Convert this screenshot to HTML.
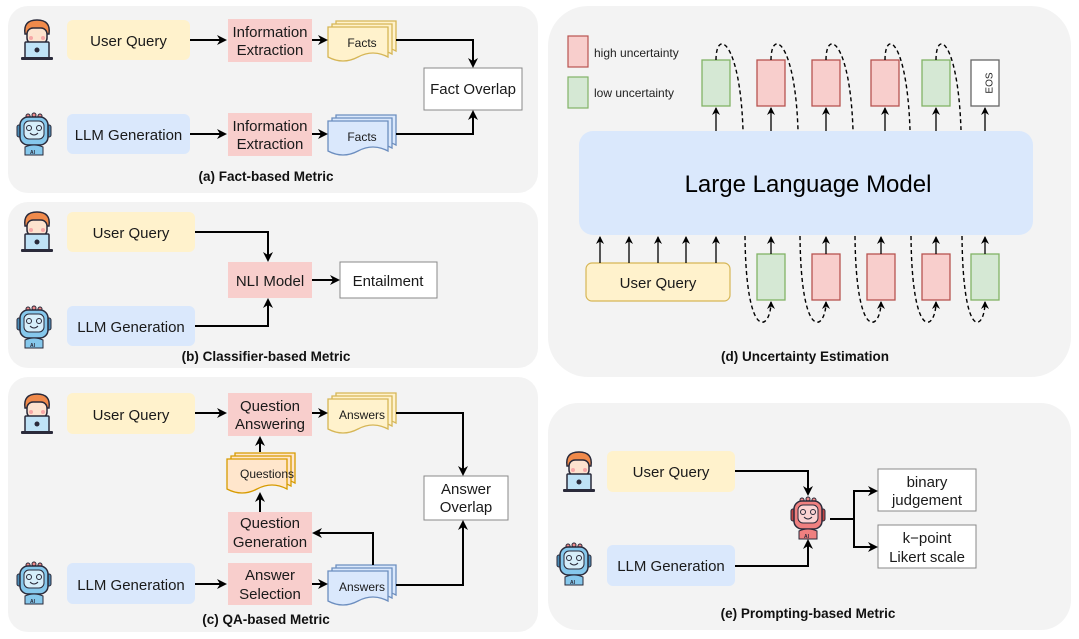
<!DOCTYPE html>
<html><head><meta charset="utf-8"><style>
html,body{margin:0;padding:0;background:#fff;}
svg{display:block;font-family:"Liberation Sans",sans-serif;}
.t{font-size:15px;fill:#1a1a1a;text-anchor:middle;}
.cap{font-size:13.5px;font-weight:bold;fill:#111;text-anchor:middle;}
.ln{fill:none;stroke:#000;stroke-width:2;}
.dl{fill:none;stroke:#000;stroke-width:1.4;stroke-dasharray:4 3;}
</style></head><body>
<svg width="1079" height="639" viewBox="0 0 1079 639" xmlns="http://www.w3.org/2000/svg">
<defs>
<marker id="ah" markerWidth="10" markerHeight="10" refX="8" refY="5" orient="auto" markerUnits="userSpaceOnUse">
<path d="M0,0 L10,5 L0,10 L3,5 z" fill="#000"/></marker>
<marker id="as" markerWidth="8" markerHeight="8" refX="7" refY="4" orient="auto" markerUnits="userSpaceOnUse">
<path d="M0,0 L8,4 L0,8 L2.5,4 z" fill="#000"/></marker>
<g id="person">
<path d="M6,16 Q4,2 18,2 Q32,2 30,16 z" fill="#f08a4b" stroke="#2a2a3a" stroke-width="1.5"/>
<rect x="8" y="10" width="20" height="16" rx="6" fill="#fde3cf" stroke="#2a2a3a" stroke-width="1.5"/>
<circle cx="12" cy="20" r="2" fill="#f7a7a7"/><circle cx="24" cy="20" r="2" fill="#f7a7a7"/>
<rect x="6" y="24" width="24" height="16" rx="1" fill="#bfe2f6" stroke="#2a2a3a" stroke-width="1.5"/>
<circle cx="18" cy="32" r="2.5" fill="#2a2a3a"/>
<rect x="2" y="39" width="32" height="3" rx="1" fill="#2a2a3a"/>
</g>
<g id="robotB">
<circle cx="12" cy="3" r="2" fill="#f08a8a" stroke="#2a2a3a"/><circle cx="18" cy="2" r="2" fill="#f08a8a" stroke="#2a2a3a"/><circle cx="24" cy="3" r="2" fill="#f08a8a" stroke="#2a2a3a"/>
<rect x="1" y="12" width="5" height="12" rx="2" fill="#4a8bb5" stroke="#2a2a3a"/><rect x="30" y="12" width="5" height="12" rx="2" fill="#4a8bb5" stroke="#2a2a3a"/>
<rect x="4" y="4" width="28" height="28" rx="8" fill="#86c8ec" stroke="#2a2a3a" stroke-width="1.5"/>
<rect x="8" y="8" width="20" height="18" rx="5" fill="#d6eefa" stroke="#2a2a3a"/>
<circle cx="13" cy="15" r="2.5" fill="none" stroke="#2a2a3a"/><circle cx="23" cy="15" r="2.5" fill="none" stroke="#2a2a3a"/>
<path d="M14,20 q4,4 8,0" fill="none" stroke="#2a2a3a"/>
<path d="M9,34 q9,-4 18,0 v8 h-18 z" fill="#86c8ec" stroke="#2a2a3a"/>
<text x="14" y="41" font-size="5" font-weight="bold" fill="#2a2a3a">AI</text>
</g>
<g id="robotR">
<circle cx="12" cy="3" r="2" fill="#f08a8a" stroke="#2a2a3a"/><circle cx="18" cy="2" r="2" fill="#f08a8a" stroke="#2a2a3a"/><circle cx="24" cy="3" r="2" fill="#f08a8a" stroke="#2a2a3a"/>
<rect x="1" y="12" width="5" height="12" rx="2" fill="#c04545" stroke="#2a2a3a"/><rect x="30" y="12" width="5" height="12" rx="2" fill="#c04545" stroke="#2a2a3a"/>
<rect x="4" y="4" width="28" height="28" rx="8" fill="#ef8080" stroke="#2a2a3a" stroke-width="1.5"/>
<rect x="8" y="8" width="20" height="18" rx="5" fill="#fbd3d3" stroke="#2a2a3a"/>
<circle cx="13" cy="15" r="2.5" fill="none" stroke="#2a2a3a"/><circle cx="23" cy="15" r="2.5" fill="none" stroke="#2a2a3a"/>
<path d="M14,20 q4,4 8,0" fill="none" stroke="#2a2a3a"/>
<path d="M9,34 q9,-4 18,0 v8 h-18 z" fill="#ef8080" stroke="#2a2a3a"/>
<text x="14" y="41" font-size="5" font-weight="bold" fill="#2a2a3a">AI</text>
</g>
<path id="pg" d="M0,0 h60 v30 q-15,-8 -30,0 t-30,0 z"/>
<g id="docY" fill="#fff2cc" stroke="#d6b656" stroke-width="1.3"><use href="#pg" x="8" y="-6"/><use href="#pg" x="4" y="-3"/><use href="#pg" x="0" y="0"/></g>
<g id="docYo" fill="#ffe6cc" stroke="#d79b00" stroke-width="1.3"><use href="#pg" x="8" y="-6"/><use href="#pg" x="4" y="-3"/><use href="#pg" x="0" y="0"/></g>
<g id="docB" fill="#dae8fc" stroke="#6c8ebf" stroke-width="1.3"><use href="#pg" x="8" y="-6"/><use href="#pg" x="4" y="-3"/><use href="#pg" x="0" y="0"/></g>
</defs>

<!-- panels -->
<rect x="8" y="6" width="530" height="187" rx="20" fill="#f3f3f3"/>
<rect x="8" y="202" width="530" height="166" rx="20" fill="#f3f3f3"/>
<rect x="8" y="377" width="530" height="255" rx="20" fill="#f3f3f3"/>
<rect x="548" y="6" width="523" height="371" rx="40" fill="#f3f3f3"/>
<rect x="548" y="403" width="523" height="227" rx="30" fill="#f3f3f3"/>

<!-- (a) -->
<use href="#person" x="19" y="18"/>
<use href="#robotB" x="16" y="113"/>
<rect x="67" y="20" width="123" height="40" rx="6" fill="#fff2cc"/><text class="t" x="128.5" y="46">User Query</text>
<rect x="67" y="114" width="123" height="40" rx="6" fill="#dae8fc"/><text class="t" x="128.5" y="140">LLM Generation</text>
<rect x="228" y="19" width="84" height="43" fill="#f8cecc"/><text class="t" x="270" y="37">Information</text><text class="t" x="270" y="55">Extraction</text>
<rect x="228" y="113" width="84" height="43" fill="#f8cecc"/><text class="t" x="270" y="131">Information</text><text class="t" x="270" y="149">Extraction</text>
<use href="#docY" x="328" y="27"/><text class="t" x="362" y="47" style="font-size:12px">Facts</text>
<use href="#docB" x="328" y="121"/><text class="t" x="362" y="141" style="font-size:12px">Facts</text>
<rect x="424" y="68" width="98" height="42" fill="#fff" stroke="#888"/><text class="t" x="473" y="94">Fact Overlap</text>
<path class="ln" d="M190,40 H225" marker-end="url(#ah)"/>
<path class="ln" d="M190,134 H225" marker-end="url(#ah)"/>
<path class="ln" d="M312,40 H326" marker-end="url(#ah)"/>
<path class="ln" d="M312,134 H326" marker-end="url(#ah)"/>
<path class="ln" d="M396,40 H473 V66" marker-end="url(#ah)"/>
<path class="ln" d="M396,134 H473 V112" marker-end="url(#ah)"/>
<text class="cap" x="266" y="181">(a) Fact-based Metric</text>

<!-- (b) -->
<use href="#person" x="19" y="210"/>
<use href="#robotB" x="16" y="306"/>
<rect x="67" y="212" width="128" height="40" rx="6" fill="#fff2cc"/><text class="t" x="131" y="238">User Query</text>
<rect x="67" y="306" width="128" height="40" rx="6" fill="#dae8fc"/><text class="t" x="131" y="332">LLM Generation</text>
<rect x="228" y="262" width="84" height="36" fill="#f8cecc"/><text class="t" x="270" y="286">NLI Model</text>
<rect x="340" y="262" width="97" height="36" fill="#fff" stroke="#888"/><text class="t" x="388" y="286">Entailment</text>
<path class="ln" d="M195,232 H268 V260" marker-end="url(#ah)"/>
<path class="ln" d="M195,326 H268 V300" marker-end="url(#ah)"/>
<path class="ln" d="M312,280 H338" marker-end="url(#ah)"/>
<text class="cap" x="266" y="361">(b) Classifier-based Metric</text>

<!-- (c) -->
<use href="#person" x="19" y="392"/>
<use href="#robotB" x="16" y="562"/>
<rect x="67" y="393" width="128" height="41" rx="6" fill="#fff2cc"/><text class="t" x="131" y="420">User Query</text>
<rect x="67" y="563" width="128" height="41" rx="6" fill="#dae8fc"/><text class="t" x="131" y="590">LLM Generation</text>
<rect x="228" y="393" width="84" height="43" fill="#f8cecc"/><text class="t" x="270" y="411">Question</text><text class="t" x="270" y="429">Answering</text>
<rect x="228" y="512" width="84" height="41" fill="#f8cecc"/><text class="t" x="270" y="528">Question</text><text class="t" x="270" y="547">Generation</text>
<rect x="228" y="563" width="84" height="42" fill="#f8cecc"/><text class="t" x="270" y="580">Answer</text><text class="t" x="270" y="599">Selection</text>
<use href="#docY" x="328" y="399"/><text class="t" x="362" y="419" style="font-size:12px">Answers</text>
<use href="#docYo" x="227" y="459"/><text class="t" x="267" y="478" style="font-size:12px">Questions</text>
<use href="#docB" x="328" y="571"/><text class="t" x="362" y="591" style="font-size:12px">Answers</text>
<rect x="424" y="476" width="84" height="44" fill="#fff" stroke="#888"/><text class="t" x="466" y="494">Answer</text><text class="t" x="466" y="512">Overlap</text>
<path class="ln" d="M195,413 H225" marker-end="url(#ah)"/>
<path class="ln" d="M195,584 H225" marker-end="url(#ah)"/>
<path class="ln" d="M312,413 H326" marker-end="url(#ah)"/>
<path class="ln" d="M312,584 H326" marker-end="url(#ah)"/>
<path class="ln" d="M396,413 H463 V474" marker-end="url(#ah)"/>
<path class="ln" d="M396,585 H463 V522" marker-end="url(#ah)"/>
<path class="ln" d="M373,565 V533 H314" marker-end="url(#ah)"/>
<path class="ln" d="M260,512 V494" marker-end="url(#ah)"/>
<path class="ln" d="M260,452 V438" marker-end="url(#ah)"/>
<text class="cap" x="266" y="624">(c) QA-based Metric</text>

<!-- (d) -->
<rect x="568" y="36" width="20" height="31" fill="#f8cecc" stroke="#b85450" stroke-width="1.2"/>
<rect x="568" y="77" width="20" height="31" fill="#d5e8d4" stroke="#82b366" stroke-width="1.2"/>
<text x="594" y="57" font-size="12" fill="#222">high uncertainty</text>
<text x="594" y="97" font-size="12" fill="#222">low uncertainty</text>
<g stroke-width="1.3">
<rect x="702" y="60" width="28" height="46" fill="#d5e8d4" stroke="#82b366"/>
<rect x="757" y="60" width="28" height="46" fill="#f8cecc" stroke="#b85450"/>
<rect x="812" y="60" width="28" height="46" fill="#f8cecc" stroke="#b85450"/>
<rect x="871" y="60" width="28" height="46" fill="#f8cecc" stroke="#b85450"/>
<rect x="922" y="60" width="28" height="46" fill="#d5e8d4" stroke="#82b366"/>
<rect x="971" y="60" width="28" height="46" fill="#fff" stroke="#666"/>
<rect x="757" y="254" width="28" height="46" fill="#d5e8d4" stroke="#82b366"/>
<rect x="812" y="254" width="28" height="46" fill="#f8cecc" stroke="#b85450"/>
<rect x="867" y="254" width="28" height="46" fill="#f8cecc" stroke="#b85450"/>
<rect x="922" y="254" width="28" height="46" fill="#f8cecc" stroke="#b85450"/>
<rect x="971" y="254" width="28" height="46" fill="#d5e8d4" stroke="#82b366"/>
</g>
<text x="990" y="83" font-size="10" fill="#222" text-anchor="middle" transform="rotate(-90 990 83)" dominant-baseline="middle">EOS</text>
<rect x="579" y="131" width="454" height="104" rx="14" fill="#dae8fc"/>
<text x="808" y="192" font-size="24" text-anchor="middle" fill="#000">Large Language Model</text>
<rect x="586" y="263" width="144" height="38" rx="6" fill="#fff2cc" stroke="#d6b656" stroke-width="1.2"/>
<text class="t" x="658" y="288">User Query</text>
<g stroke="#000" stroke-width="1.3" fill="none">
<path d="M600,263 V237" marker-end="url(#as)"/><path d="M629,263 V237" marker-end="url(#as)"/><path d="M658,263 V237" marker-end="url(#as)"/><path d="M686,263 V237" marker-end="url(#as)"/><path d="M716,263 V237" marker-end="url(#as)"/>
<path d="M771,254 V237" marker-end="url(#as)"/><path d="M826,254 V237" marker-end="url(#as)"/><path d="M881,254 V237" marker-end="url(#as)"/><path d="M936,254 V237" marker-end="url(#as)"/><path d="M985,254 V237" marker-end="url(#as)"/>
<path d="M716,131 V108" marker-end="url(#as)"/><path d="M771,131 V108" marker-end="url(#as)"/><path d="M826,131 V108" marker-end="url(#as)"/><path d="M885,131 V108" marker-end="url(#as)"/><path d="M936,131 V108" marker-end="url(#as)"/><path d="M985,131 V108" marker-end="url(#as)"/>
</g>
<g class="dl">
<path d="M716,60 C716,28 740,40 743,130"/>
<path d="M771,60 C771,28 795,40 798,130"/>
<path d="M826,60 C826,28 850,40 853,130"/>
<path d="M885,60 C885,28 907,40 910,130"/>
<path d="M936,60 C936,28 958,40 961,130"/>
<path d="M745,236 C746,345 771,330 771,302" marker-end="url(#as)"/>
<path d="M800,236 C801,345 826,330 826,302" marker-end="url(#as)"/>
<path d="M855,236 C856,345 881,330 881,302" marker-end="url(#as)"/>
<path d="M911,236 C912,345 936,330 936,302" marker-end="url(#as)"/>
<path d="M962,236 C963,345 985,330 985,302" marker-end="url(#as)"/>
</g>
<text class="cap" x="805" y="361">(d) Uncertainty Estimation</text>

<!-- (e) -->
<use href="#person" x="561" y="450"/>
<use href="#robotB" x="556" y="543"/>
<rect x="607" y="451" width="128" height="41" rx="6" fill="#fff2cc"/><text class="t" x="671" y="477">User Query</text>
<rect x="607" y="545" width="128" height="41" rx="6" fill="#dae8fc"/><text class="t" x="671" y="571">LLM Generation</text>
<use href="#robotR" x="790" y="497"/>
<rect x="878" y="469" width="98" height="42" fill="#fff" stroke="#888"/><text class="t" x="927" y="487">binary</text><text class="t" x="927" y="505">judgement</text>
<rect x="878" y="525" width="98" height="43" fill="#fff" stroke="#888"/><text class="t" x="927" y="543">k−point</text><text class="t" x="927" y="562">Likert scale</text>
<path class="ln" d="M735,471 H808 V494" marker-end="url(#ah)"/>
<path class="ln" d="M735,566 H808 V541" marker-end="url(#ah)"/>
<path class="ln" d="M830,519 H854 V491 H876" marker-end="url(#ah)"/>
<path class="ln" d="M854,519 V547 H876" marker-end="url(#ah)"/>
<text class="cap" x="808" y="618">(e) Prompting-based Metric</text>
</svg>
</body></html>
